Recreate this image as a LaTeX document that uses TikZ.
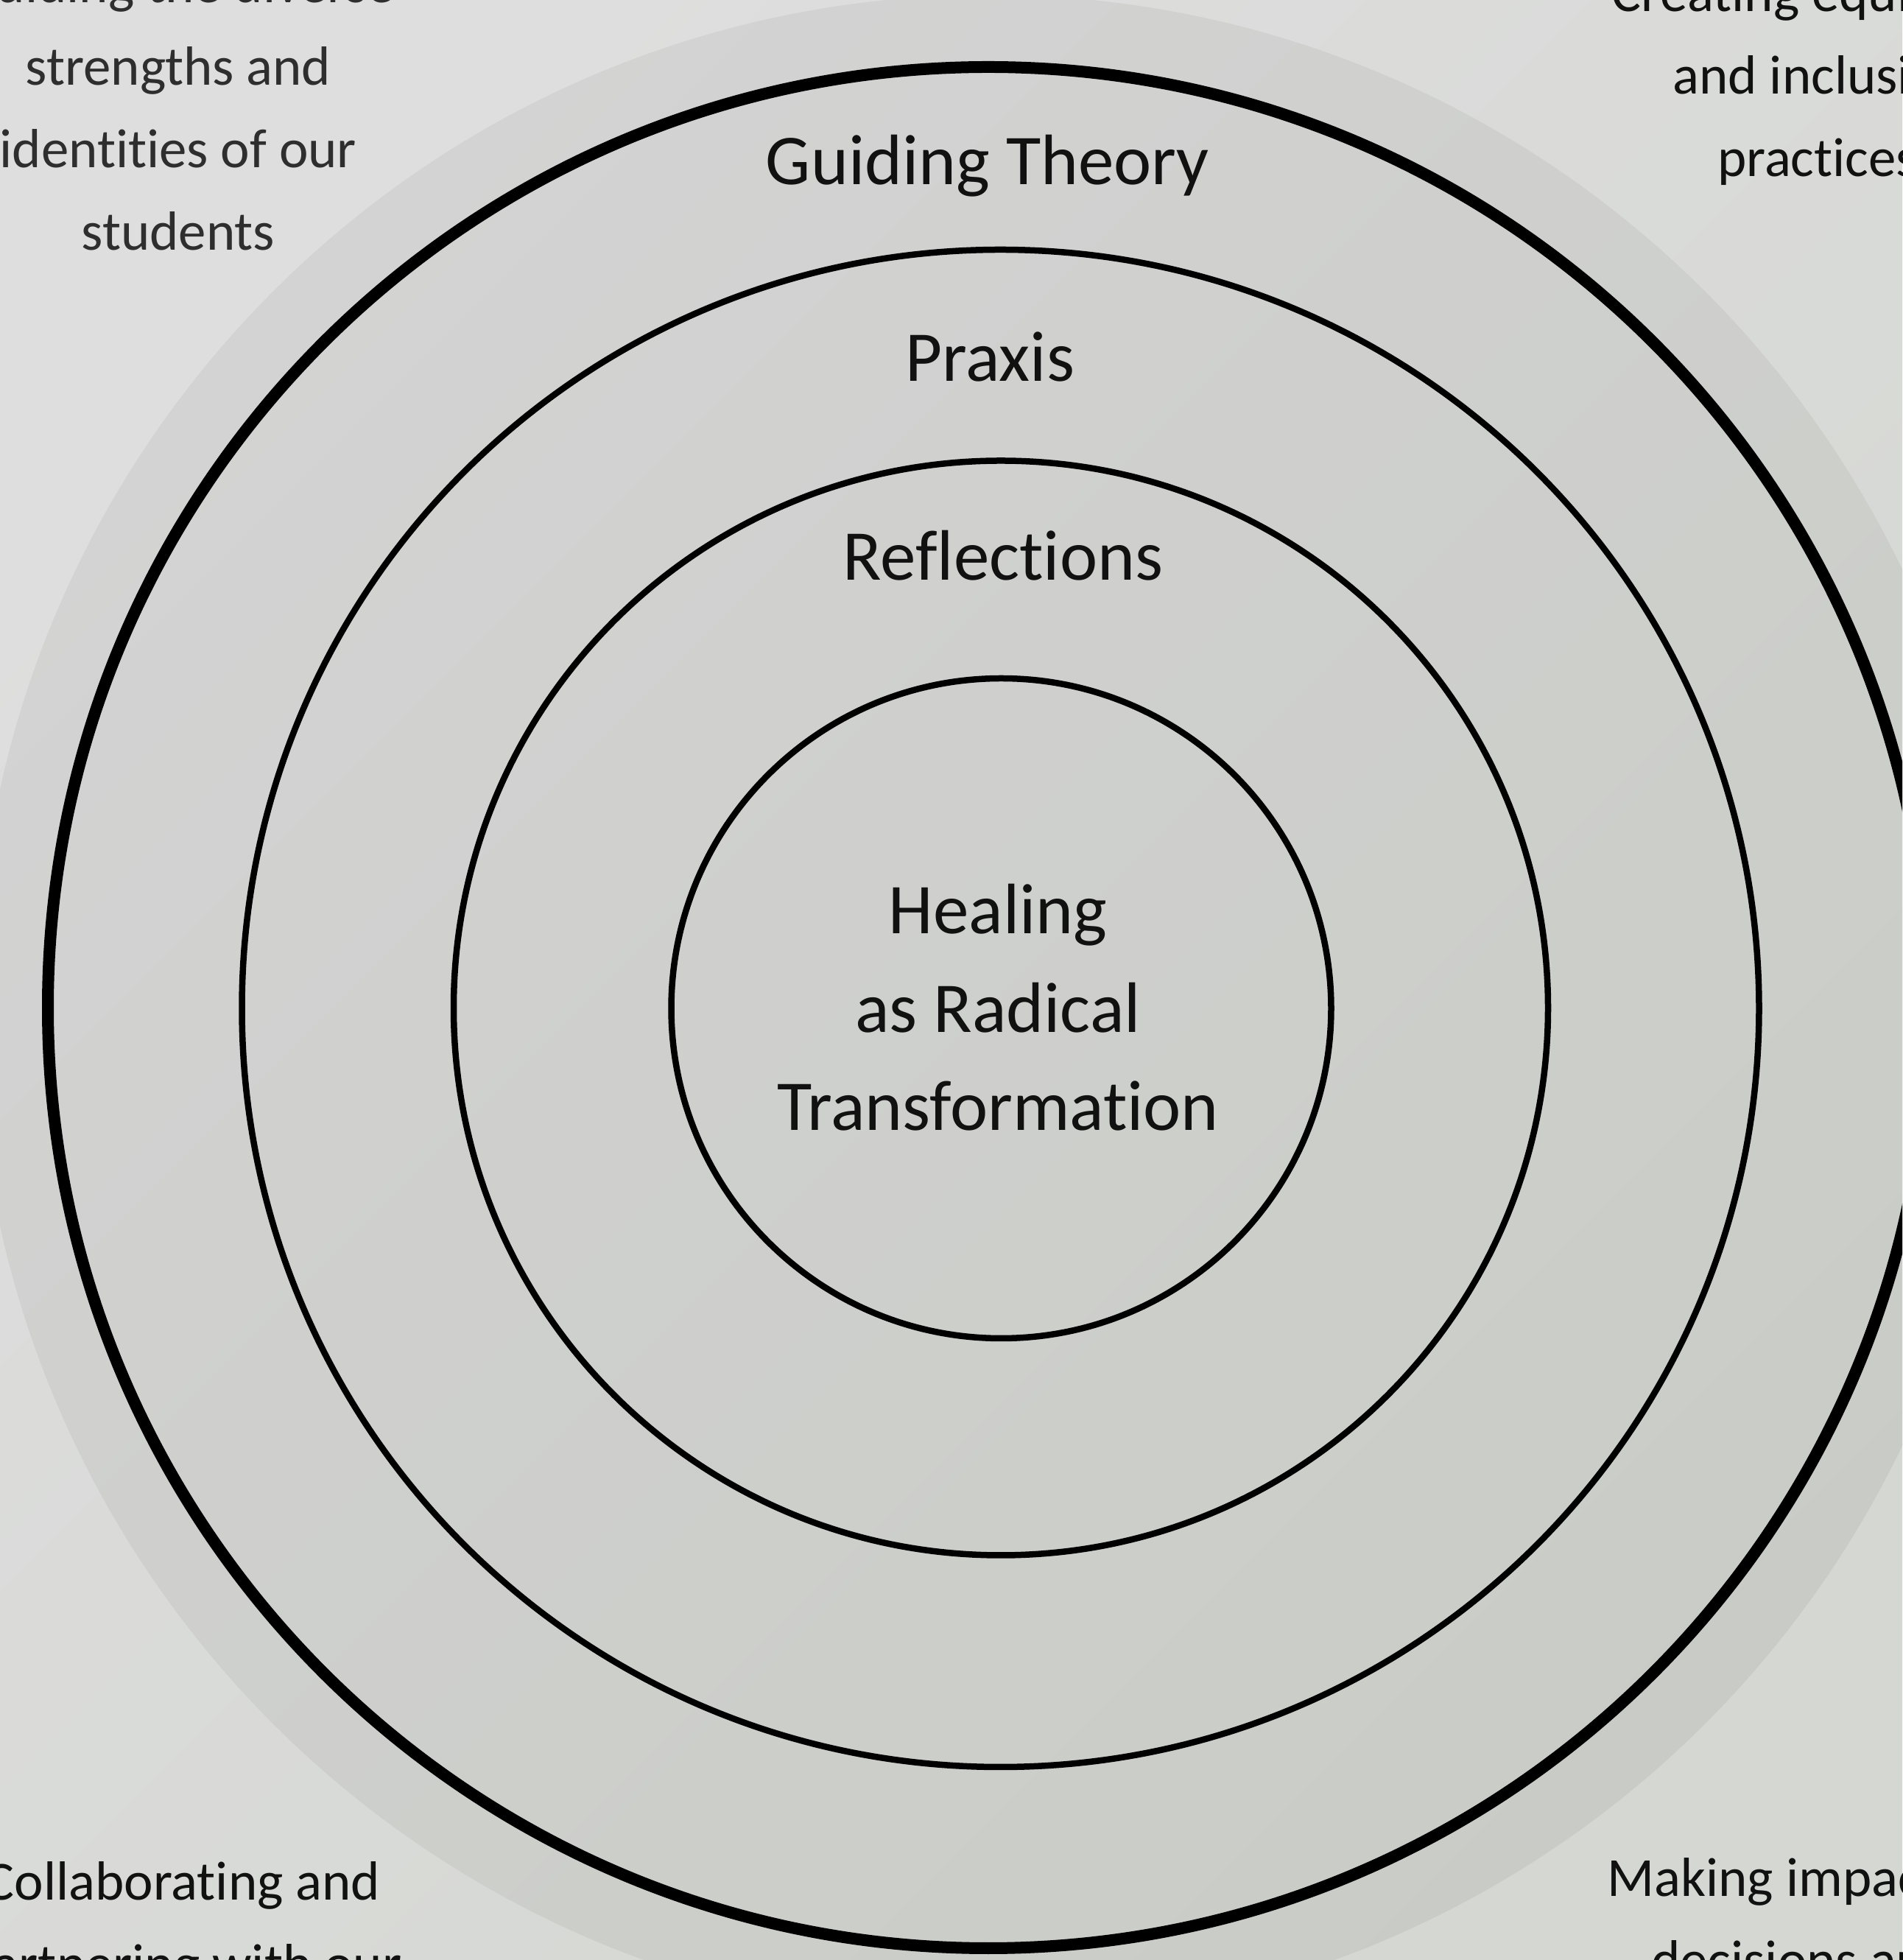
\documentclass[tikz,border=0pt]{standalone}
\usepackage{fontspec}
\setmainfont{Carlito}[Ligatures=NoCommon]
\definecolor{paperA}{HTML}{DEDEDE}
\definecolor{paperB}{HTML}{D4D7D2}
\definecolor{diskA}{HTML}{D3D3D3}
\definecolor{diskB}{HTML}{C9CCC6}
\definecolor{ink}{HTML}{111111}
\definecolor{softink}{HTML}{2E2E2E}
\begin{document}
\begin{tikzpicture}[
  ring/.style={draw=black, line width=0.085cm},
  ringlabel/.style={font=\fontsize{27.6}{38.1}\selectfont, text=ink, inner sep=0pt, anchor=base, align=center},
  cornertext/.style={font=\fontsize{21.3}{31.9}\selectfont, text=ink, inner sep=0pt, anchor=base, align=center}]
  \useasboundingbox (0,0) rectangle (25.83,26.61);
  \clip (0,0) rectangle (25.83,26.61);
  % backdrop and the pale disc behind the rings
  \shade[top color=paperA, bottom color=paperB, shading angle=45] (0,0) rectangle (25.83,26.61);
  \shade[top color=diskA, bottom color=diskB, shading angle=45] (13.43,12.93) circle (13.75);
  % rings, outside in
  \draw[line width=0.16cm] (13.42,12.93) circle (12.77);
  \draw[ring] (13.585,12.92) circle (10.30);
  \draw[ring] (13.59,12.925) circle (7.43);
  \draw[ring] (13.595,12.92) circle (4.48);
  % ring labels (multi-line ones sit on their last baseline)
  \node[ringlabel] (theory) at (13.41,24.10) {Guiding Theory};
  \node[ringlabel] (praxis) at (13.44,21.43) {Praxis};
  \node[ringlabel] (reflect) at (13.62,18.73) {Reflections};
  \node[ringlabel] (core) at (13.55,11.26) {Healing\\as Radical\\Transformation};
  % corner notes
  \node[cornertext, text=softink] (strengths) at (2.42,23.21) {Guiding the diverse\\strengths and\\identities of our\\students};
  \node[cornertext] (equity) at (24.68,24.21) {Creating equitable\\and inclusive\\practices};
  \node[cornertext] (partners) at (2.48,-0.31) {Collaborating and\\partnering with our};
  \node[cornertext] (decisions) at (24.48,-0.26) {Making impactful\\decisions and};
\end{tikzpicture}
\end{document}
